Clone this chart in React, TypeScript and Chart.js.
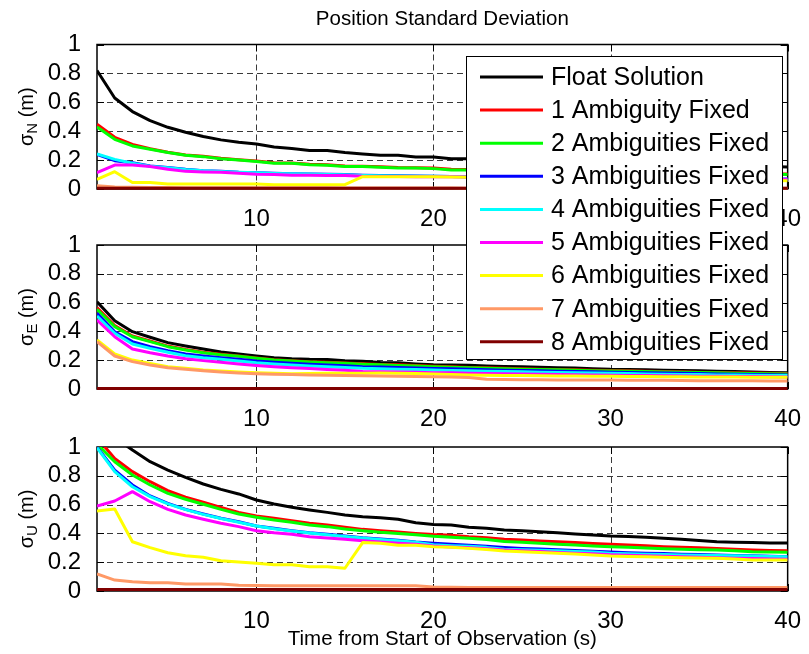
import React, { useEffect, useRef } from "react";
import { Chart, registerables } from "chart.js";

Chart.register(...registerables);

// Time axis (s) and tick values
const TIME = [1, 2, 3, 4, 5, 6, 7, 8, 9, 10, 11, 12, 13, 14, 15, 16, 17, 18, 19, 20, 21, 22, 23, 24, 25, 26, 27, 28, 29, 30, 31, 32, 33, 34, 35, 36, 37, 38, 39, 40];
const X_TICKS = [10, 20, 30, 40];
const Y_TICKS = [0, 0.2, 0.4, 0.6, 0.8, 1];

const SERIES_LABELS = [
  "Float Solution",
  "1 Ambiguity Fixed",
  "2 Ambiguities Fixed",
  "3 Ambiguities Fixed",
  "4 Ambiguities Fixed",
  "5 Ambiguities Fixed",
  "6 Ambiguities Fixed",
  "7 Ambiguities Fixed",
  "8 Ambiguities Fixed",
];
const SERIES_COLORS = ["#000000", "#ff0000", "#00ff00", "#0000ff", "#00ffff", "#ff00ff", "#ffff00", "#ff9966", "#800000"];

// North standard deviation (m)
const N_FLOAT = [0.82, 0.63, 0.536, 0.473, 0.427, 0.393, 0.363, 0.34, 0.323, 0.312, 0.29, 0.28, 0.266, 0.266, 0.252, 0.243, 0.233, 0.233, 0.222, 0.222, 0.21, 0.21, 0.205, 0.2, 0.198, 0.195, 0.19, 0.187, 0.183, 0.18, 0.177, 0.174, 0.171, 0.168, 0.165, 0.163, 0.16, 0.158, 0.156, 0.153];
const N_FIX1 = [0.448, 0.358, 0.308, 0.278, 0.255, 0.236, 0.226, 0.213, 0.203, 0.193, 0.182, 0.18, 0.172, 0.167, 0.16, 0.158, 0.154, 0.149, 0.147, 0.145, 0.137, 0.135, 0.133, 0.131, 0.129, 0.127, 0.125, 0.123, 0.121, 0.119, 0.117, 0.116, 0.114, 0.113, 0.111, 0.11, 0.108, 0.107, 0.106, 0.104];
const N_FIX2 = [0.43, 0.344, 0.298, 0.275, 0.252, 0.233, 0.224, 0.21, 0.2, 0.19, 0.178, 0.178, 0.168, 0.164, 0.155, 0.155, 0.15, 0.145, 0.145, 0.141, 0.132, 0.132, 0.13, 0.128, 0.126, 0.124, 0.122, 0.12, 0.118, 0.116, 0.114, 0.113, 0.111, 0.11, 0.108, 0.107, 0.105, 0.104, 0.102, 0.1];
const N_FIX3 = [0.24, 0.196, 0.182, 0.159, 0.148, 0.136, 0.127, 0.122, 0.116, 0.113, 0.109, 0.106, 0.104, 0.102, 0.1, 0.096, 0.094, 0.092, 0.09, 0.089, 0.087, 0.085, 0.084, 0.083, 0.082, 0.081, 0.08, 0.079, 0.078, 0.077, 0.076, 0.075, 0.074, 0.074, 0.073, 0.072, 0.071, 0.071, 0.07, 0.07];
const N_FIX4 = [0.243, 0.205, 0.178, 0.158, 0.147, 0.135, 0.127, 0.121, 0.116, 0.112, 0.108, 0.105, 0.103, 0.1, 0.098, 0.094, 0.092, 0.09, 0.089, 0.088, 0.086, 0.084, 0.083, 0.082, 0.081, 0.08, 0.079, 0.078, 0.077, 0.076, 0.075, 0.074, 0.073, 0.073, 0.072, 0.071, 0.07, 0.07, 0.069, 0.069];
const N_FIX5 = [0.113, 0.166, 0.166, 0.155, 0.136, 0.122, 0.118, 0.116, 0.109, 0.102, 0.1, 0.096, 0.095, 0.094, 0.093, 0.088, 0.087, 0.086, 0.085, 0.085, 0.084, 0.083, 0.082, 0.081, 0.08, 0.079, 0.078, 0.077, 0.076, 0.075, 0.075, 0.074, 0.073, 0.072, 0.072, 0.071, 0.07, 0.07, 0.069, 0.068];
const N_FIX6 = [0.067, 0.12, 0.045, 0.045, 0.035, 0.035, 0.035, 0.035, 0.035, 0.035, 0.03, 0.03, 0.03, 0.03, 0.03, 0.085, 0.085, 0.085, 0.085, 0.084, 0.083, 0.082, 0.08, 0.079, 0.077, 0.076, 0.075, 0.073, 0.072, 0.07, 0.069, 0.067, 0.066, 0.065, 0.064, 0.062, 0.061, 0.06, 0.058, 0.057];
const N_FIX7 = [0.022, 0.014, 0.012, 0.01, 0.01, 0.009, 0.009, 0.009, 0.008, 0.008, 0.008, 0.008, 0.008, 0.008, 0.007, 0.007, 0.007, 0.007, 0.007, 0.007, 0.007, 0.006, 0.006, 0.006, 0.006, 0.006, 0.006, 0.006, 0.006, 0.006, 0.006, 0.006, 0.005, 0.005, 0.005, 0.005, 0.005, 0.005, 0.005, 0.005];
const N_FIX8 = [0.005, 0.005, 0.005, 0.005, 0.005, 0.005, 0.005, 0.005, 0.005, 0.005, 0.005, 0.005, 0.005, 0.005, 0.005, 0.005, 0.005, 0.005, 0.005, 0.005, 0.005, 0.005, 0.005, 0.005, 0.005, 0.005, 0.005, 0.005, 0.005, 0.005, 0.005, 0.005, 0.005, 0.005, 0.005, 0.005, 0.005, 0.005, 0.005, 0.005];

// East standard deviation (m)
const E_FLOAT = [0.606, 0.474, 0.398, 0.359, 0.322, 0.299, 0.278, 0.257, 0.243, 0.23, 0.217, 0.21, 0.206, 0.205, 0.197, 0.192, 0.184, 0.182, 0.174, 0.168, 0.166, 0.165, 0.16, 0.157, 0.155, 0.151, 0.148, 0.145, 0.141, 0.137, 0.136, 0.133, 0.131, 0.129, 0.127, 0.124, 0.121, 0.118, 0.115, 0.113];
const E_FIX1 = [0.565, 0.44, 0.368, 0.333, 0.298, 0.275, 0.256, 0.242, 0.23, 0.216, 0.204, 0.197, 0.19, 0.186, 0.181, 0.175, 0.171, 0.168, 0.163, 0.158, 0.155, 0.15, 0.147, 0.144, 0.141, 0.138, 0.135, 0.133, 0.13, 0.128, 0.126, 0.124, 0.121, 0.119, 0.117, 0.115, 0.113, 0.111, 0.109, 0.107];
const E_FIX2 = [0.553, 0.433, 0.363, 0.329, 0.294, 0.271, 0.252, 0.238, 0.227, 0.213, 0.201, 0.194, 0.188, 0.183, 0.178, 0.172, 0.168, 0.164, 0.16, 0.155, 0.151, 0.147, 0.144, 0.141, 0.138, 0.135, 0.133, 0.13, 0.127, 0.125, 0.123, 0.121, 0.118, 0.116, 0.114, 0.112, 0.11, 0.108, 0.106, 0.104];
const E_FIX3 = [0.526, 0.398, 0.329, 0.294, 0.266, 0.243, 0.229, 0.217, 0.206, 0.194, 0.185, 0.178, 0.172, 0.167, 0.161, 0.155, 0.152, 0.149, 0.146, 0.142, 0.14, 0.137, 0.134, 0.131, 0.129, 0.126, 0.124, 0.122, 0.119, 0.117, 0.115, 0.113, 0.111, 0.109, 0.107, 0.105, 0.103, 0.101, 0.099, 0.097];
const E_FIX4 = [0.507, 0.387, 0.313, 0.282, 0.255, 0.231, 0.217, 0.206, 0.194, 0.182, 0.174, 0.167, 0.16, 0.155, 0.15, 0.144, 0.141, 0.138, 0.135, 0.132, 0.129, 0.126, 0.124, 0.121, 0.119, 0.117, 0.115, 0.113, 0.111, 0.109, 0.107, 0.105, 0.103, 0.101, 0.1, 0.098, 0.097, 0.095, 0.094, 0.093];
const E_FIX5 = [0.479, 0.363, 0.278, 0.252, 0.229, 0.21, 0.197, 0.185, 0.174, 0.164, 0.155, 0.148, 0.142, 0.135, 0.13, 0.122, 0.12, 0.118, 0.116, 0.113, 0.112, 0.11, 0.108, 0.106, 0.104, 0.102, 0.101, 0.099, 0.097, 0.096, 0.094, 0.093, 0.092, 0.09, 0.089, 0.088, 0.087, 0.086, 0.085, 0.084];
const E_FIX6 = [0.34, 0.243, 0.201, 0.178, 0.155, 0.144, 0.132, 0.125, 0.118, 0.113, 0.109, 0.106, 0.108, 0.109, 0.11, 0.11, 0.111, 0.11, 0.107, 0.104, 0.1, 0.097, 0.095, 0.094, 0.093, 0.092, 0.091, 0.09, 0.089, 0.088, 0.087, 0.086, 0.085, 0.085, 0.084, 0.083, 0.083, 0.082, 0.081, 0.081];
const E_FIX7 = [0.329, 0.229, 0.19, 0.167, 0.148, 0.137, 0.127, 0.118, 0.111, 0.106, 0.102, 0.1, 0.098, 0.096, 0.094, 0.092, 0.09, 0.089, 0.087, 0.085, 0.083, 0.08, 0.068, 0.066, 0.065, 0.064, 0.063, 0.063, 0.062, 0.062, 0.061, 0.06, 0.06, 0.059, 0.058, 0.058, 0.057, 0.057, 0.056, 0.056];
const E_FIX8 = [0.003, 0.003, 0.003, 0.003, 0.003, 0.003, 0.003, 0.003, 0.003, 0.003, 0.003, 0.003, 0.003, 0.003, 0.003, 0.003, 0.003, 0.003, 0.003, 0.003, 0.003, 0.003, 0.003, 0.003, 0.003, 0.003, 0.003, 0.003, 0.003, 0.003, 0.003, 0.003, 0.003, 0.003, 0.003, 0.003, 0.003, 0.003, 0.003, 0.003];

// Up standard deviation (m)
const U_FLOAT = [1.25, 1.067, 0.979, 0.898, 0.84, 0.789, 0.743, 0.706, 0.674, 0.632, 0.604, 0.581, 0.5625, 0.546, 0.528, 0.516, 0.509, 0.498, 0.474, 0.462, 0.458, 0.442, 0.435, 0.424, 0.418, 0.412, 0.404, 0.396, 0.389, 0.382, 0.378, 0.373, 0.366, 0.359, 0.35, 0.342, 0.339, 0.336, 0.334, 0.333];
const U_FIX1 = [1.065, 0.92, 0.829, 0.759, 0.697, 0.651, 0.616, 0.581, 0.546, 0.521, 0.505, 0.488, 0.47, 0.458, 0.442, 0.428, 0.419, 0.41, 0.4, 0.392, 0.387, 0.377, 0.37, 0.36, 0.354, 0.348, 0.342, 0.336, 0.33, 0.324, 0.319, 0.314, 0.308, 0.303, 0.3, 0.296, 0.29, 0.285, 0.282, 0.28];
const U_FIX2 = [1.021, 0.898, 0.806, 0.736, 0.678, 0.637, 0.602, 0.567, 0.535, 0.512, 0.493, 0.477, 0.458, 0.447, 0.43, 0.419, 0.408, 0.4, 0.391, 0.38, 0.373, 0.366, 0.358, 0.344, 0.338, 0.332, 0.325, 0.319, 0.313, 0.308, 0.303, 0.298, 0.294, 0.29, 0.287, 0.285, 0.28, 0.273, 0.271, 0.269];
const U_FIX3 = [1.0, 0.84, 0.736, 0.66, 0.609, 0.567, 0.535, 0.505, 0.481, 0.451, 0.435, 0.419, 0.405, 0.394, 0.382, 0.37, 0.361, 0.352, 0.34, 0.331, 0.324, 0.317, 0.31, 0.302, 0.296, 0.291, 0.286, 0.281, 0.276, 0.27, 0.266, 0.263, 0.26, 0.256, 0.253, 0.25, 0.247, 0.244, 0.241, 0.238];
const U_FIX4 = [0.995, 0.829, 0.724, 0.655, 0.605, 0.565, 0.532, 0.503, 0.478, 0.451, 0.433, 0.417, 0.403, 0.391, 0.379, 0.368, 0.358, 0.349, 0.338, 0.321, 0.315, 0.31, 0.303, 0.29, 0.287, 0.283, 0.279, 0.274, 0.27, 0.262, 0.259, 0.256, 0.253, 0.25, 0.248, 0.246, 0.244, 0.243, 0.24, 0.238];
const U_FIX5 = [0.59, 0.625, 0.69, 0.62, 0.567, 0.528, 0.498, 0.47, 0.447, 0.419, 0.405, 0.394, 0.377, 0.368, 0.359, 0.349, 0.34, 0.332, 0.324, 0.312, 0.306, 0.3, 0.293, 0.285, 0.279, 0.274, 0.268, 0.263, 0.258, 0.252, 0.248, 0.244, 0.241, 0.237, 0.234, 0.231, 0.228, 0.225, 0.222, 0.22];
const U_FIX6 = [0.556, 0.569, 0.342, 0.301, 0.266, 0.245, 0.234, 0.21, 0.201, 0.192, 0.183, 0.183, 0.169, 0.169, 0.158, 0.336, 0.331, 0.317, 0.317, 0.308, 0.303, 0.296, 0.288, 0.278, 0.273, 0.268, 0.262, 0.257, 0.25, 0.243, 0.24, 0.237, 0.234, 0.231, 0.229, 0.227, 0.222, 0.215, 0.215, 0.215];
const U_FIX7 = [0.118, 0.076, 0.065, 0.058, 0.058, 0.049, 0.049, 0.049, 0.04, 0.038, 0.037, 0.037, 0.037, 0.037, 0.037, 0.037, 0.037, 0.037, 0.037, 0.027, 0.026, 0.025, 0.025, 0.025, 0.025, 0.025, 0.025, 0.025, 0.025, 0.025, 0.025, 0.025, 0.025, 0.025, 0.025, 0.025, 0.025, 0.025, 0.025, 0.025];
const U_FIX8 = [0.01, 0.01, 0.01, 0.01, 0.01, 0.01, 0.01, 0.01, 0.01, 0.01, 0.01, 0.01, 0.01, 0.01, 0.01, 0.01, 0.01, 0.01, 0.01, 0.01, 0.01, 0.01, 0.01, 0.01, 0.01, 0.01, 0.01, 0.01, 0.01, 0.01, 0.01, 0.01, 0.01, 0.01, 0.01, 0.01, 0.01, 0.01, 0.01, 0.01];

const N_SERIES = [N_FLOAT, N_FIX1, N_FIX2, N_FIX3, N_FIX4, N_FIX5, N_FIX6, N_FIX7, N_FIX8];
const E_SERIES = [E_FLOAT, E_FIX1, E_FIX2, E_FIX3, E_FIX4, E_FIX5, E_FIX6, E_FIX7, E_FIX8];
const U_SERIES = [U_FLOAT, U_FIX1, U_FIX2, U_FIX3, U_FIX4, U_FIX5, U_FIX6, U_FIX7, U_FIX8];

const TITLE = "Position Standard Deviation";
const X_LABEL = "Time from Start of Observation (s)";

const W = 809;
const H = 654;
const FONT = "'Liberation Sans', Arial, Helvetica, sans-serif";
const PLOT_LEFT = 97;
const PLOT_RIGHT = 791;
const X_AXIS_H = 45;

type Panel = {
  series: number[][];
  sub: string;
  top: number;
  bottom: number;
  first: boolean;
  last: boolean;
};

const PANELS: Panel[] = [
  { series: N_SERIES, sub: "N", top: 44.5, bottom: 189, first: true, last: false },
  { series: E_SERIES, sub: "E", top: 245, bottom: 389, first: false, last: false },
  { series: U_SERIES, sub: "U", top: 447, bottom: 591, first: false, last: true },
];

function framePlugin() {
  return {
    id: "axesFrame",
    beforeDatasetsDraw(chart: any) {
      const { ctx, chartArea, scales } = chart;
      const { left, right, top, bottom } = chartArea;
      const xs = scales.x;
      const ys = scales.y;
      ctx.save();
      // dashed grid
      ctx.strokeStyle = "#3a3a3a";
      ctx.lineWidth = 1;
      ctx.setLineDash([6, 4]);
      X_TICKS.forEach((v) => {
        const px = Math.round(xs.getPixelForValue(v)) + 0.5;
        if (px > right - 2) return;
        ctx.beginPath();
        ctx.moveTo(px, top);
        ctx.lineTo(px, bottom);
        ctx.stroke();
      });
      Y_TICKS.forEach((v) => {
        const py = Math.round(ys.getPixelForValue(v)) + 0.5;
        if (py < top + 2 || py > bottom - 2) return;
        ctx.beginPath();
        ctx.moveTo(left, py);
        ctx.lineTo(right, py);
        ctx.stroke();
      });
      ctx.setLineDash([]);
      // box
      ctx.strokeStyle = "#000";
      ctx.lineWidth = 1.5;
      ctx.strokeRect(left, top, right - left, bottom - top);
      // inward tick marks
      ctx.lineWidth = 1;
      const tl = 7;
      X_TICKS.forEach((v) => {
        const px = Math.round(xs.getPixelForValue(v)) + 0.5;
        ctx.beginPath();
        ctx.moveTo(px, bottom);
        ctx.lineTo(px, bottom - tl);
        ctx.moveTo(px, top);
        ctx.lineTo(px, top + tl);
        ctx.stroke();
      });
      Y_TICKS.forEach((v) => {
        const py = Math.round(ys.getPixelForValue(v)) + 0.5;
        ctx.beginPath();
        ctx.moveTo(left, py);
        ctx.lineTo(left + tl, py);
        ctx.moveTo(right, py);
        ctx.lineTo(right - tl, py);
        ctx.stroke();
      });
      ctx.restore();
    },
  };
}

function labelsPlugin(panel: Panel) {
  return {
    id: "panelLabels",
    afterDraw(chart: any) {
      const { ctx, chartArea } = chart;
      const { left, right, top, bottom } = chartArea;
      const cx = (left + right) / 2;
      ctx.save();
      ctx.fillStyle = "#000";

      // y label: sigma with subscript, then unit
      const mainFont = `20px ${FONT}`;
      const subFont = `15px ${FONT}`;
      ctx.font = mainFont;
      const wSig = ctx.measureText("σ").width;
      const wUnit = ctx.measureText(" (m)").width;
      ctx.font = subFont;
      const wSub = ctx.measureText(panel.sub).width;
      const total = wSig + wSub + wUnit;
      ctx.translate(27, (top + bottom) / 2);
      ctx.rotate(-Math.PI / 2);
      ctx.textBaseline = "middle";
      ctx.textAlign = "left";
      let xx = -total / 2;
      ctx.font = mainFont;
      ctx.fillText("σ", xx, 0);
      xx += wSig;
      ctx.font = subFont;
      ctx.fillText(panel.sub, xx, 6);
      xx += wSub;
      ctx.font = mainFont;
      ctx.fillText(" (m)", xx, 0);
      ctx.setTransform(1, 0, 0, 1, 0, 0);

      ctx.textAlign = "center";
      ctx.textBaseline = "middle";
      ctx.font = `20.5px ${FONT}`;
      if (panel.first) ctx.fillText(TITLE, cx, 19);
      if (panel.last) ctx.fillText(X_LABEL, cx, 639);

      if (panel.first) {
        // legend box
        const bx = 466.5;
        const by = 56.5;
        const bw = 316;
        const bh = 303;
        ctx.fillStyle = "#fff";
        ctx.fillRect(bx, by, bw, bh);
        ctx.strokeStyle = "#000";
        ctx.lineWidth = 1;
        ctx.strokeRect(bx, by, bw, bh);
        ctx.font = `25px ${FONT}`;
        ctx.textAlign = "left";
        ctx.textBaseline = "middle";
        SERIES_LABELS.forEach((lab, i) => {
          const ly = 77 + i * 33.1;
          ctx.strokeStyle = SERIES_COLORS[i];
          ctx.lineWidth = 3;
          ctx.beginPath();
          ctx.moveTo(480, ly);
          ctx.lineTo(543, ly);
          ctx.stroke();
          ctx.fillStyle = "#000";
          ctx.fillText(lab, 551, ly + 1);
        });
      }
      ctx.restore();
    },
  };
}

function buildChart(canvas: HTMLCanvasElement, panel: Panel) {
  const n = SERIES_LABELS.length;
  return new Chart(canvas, {
    type: "line",
    data: {
      datasets: panel.series.map((vals, i) => ({
        label: SERIES_LABELS[i],
        data: TIME.map((t, k) => ({ x: t, y: vals[k] })),
        borderColor: SERIES_COLORS[i],
        backgroundColor: SERIES_COLORS[i],
        borderWidth: 3,
        pointRadius: 0,
        tension: 0,
        fill: false,
        borderJoinStyle: "round",
        order: n - i,
        clip: { left: 0, top: 0, right: 0, bottom: 2 },
      })),
    } as any,
    options: {
      responsive: false,
      animation: false,
      events: [],
      layout: {
        padding: { left: 0, right: W - PLOT_RIGHT, top: panel.top, bottom: H - panel.bottom - X_AXIS_H },
      },
      plugins: {
        legend: { display: false },
        tooltip: { enabled: false },
        title: { display: false },
      },
      scales: {
        x: {
          type: "linear",
          min: 1,
          max: 40,
          grid: { display: false },
          border: { display: false },
          afterBuildTicks: (s: any) => {
            s.ticks = X_TICKS.map((v) => ({ value: v }));
          },
          afterFit: (s: any) => {
            s.height = X_AXIS_H;
          },
          ticks: {
            padding: 8,
            color: "#000",
            maxRotation: 0,
            autoSkip: false,
            font: { family: FONT, size: 24 },
            callback: (v: any) => String(Number(v)),
          },
        },
        y: {
          type: "linear",
          min: 0,
          max: 1,
          grid: { display: false },
          border: { display: false },
          afterBuildTicks: (s: any) => {
            s.ticks = Y_TICKS.map((v) => ({ value: v }));
          },
          afterFit: (s: any) => {
            s.width = PLOT_LEFT;
          },
          ticks: {
            padding: 8,
            color: "#000",
            autoSkip: false,
            font: { family: FONT, size: 24 },
            callback: (v: any) => String(Number(v)),
          },
        },
      },
    } as any,
    plugins: [framePlugin(), labelsPlugin(panel)],
  });
}

export default function App() {
  const refN = useRef<HTMLCanvasElement | null>(null);
  const refE = useRef<HTMLCanvasElement | null>(null);
  const refU = useRef<HTMLCanvasElement | null>(null);

  useEffect(() => {
    const canvases = [refN.current, refE.current, refU.current];
    const charts = PANELS.map((p, i) => buildChart(canvases[i] as HTMLCanvasElement, p));
    return () => charts.forEach((c) => c.destroy());
  }, []);

  const style: React.CSSProperties = { position: "absolute", left: 0, top: 0, width: W, height: H };
  return (
    <div style={{ position: "fixed", left: 0, top: 0, width: W, height: H, background: "#fff", overflow: "hidden" }}>
      <canvas ref={refU} width={W} height={H} style={{ ...style, zIndex: 1 }} />
      <canvas ref={refE} width={W} height={H} style={{ ...style, zIndex: 2 }} />
      <canvas ref={refN} width={W} height={H} style={{ ...style, zIndex: 3 }} />
    </div>
  );
}
